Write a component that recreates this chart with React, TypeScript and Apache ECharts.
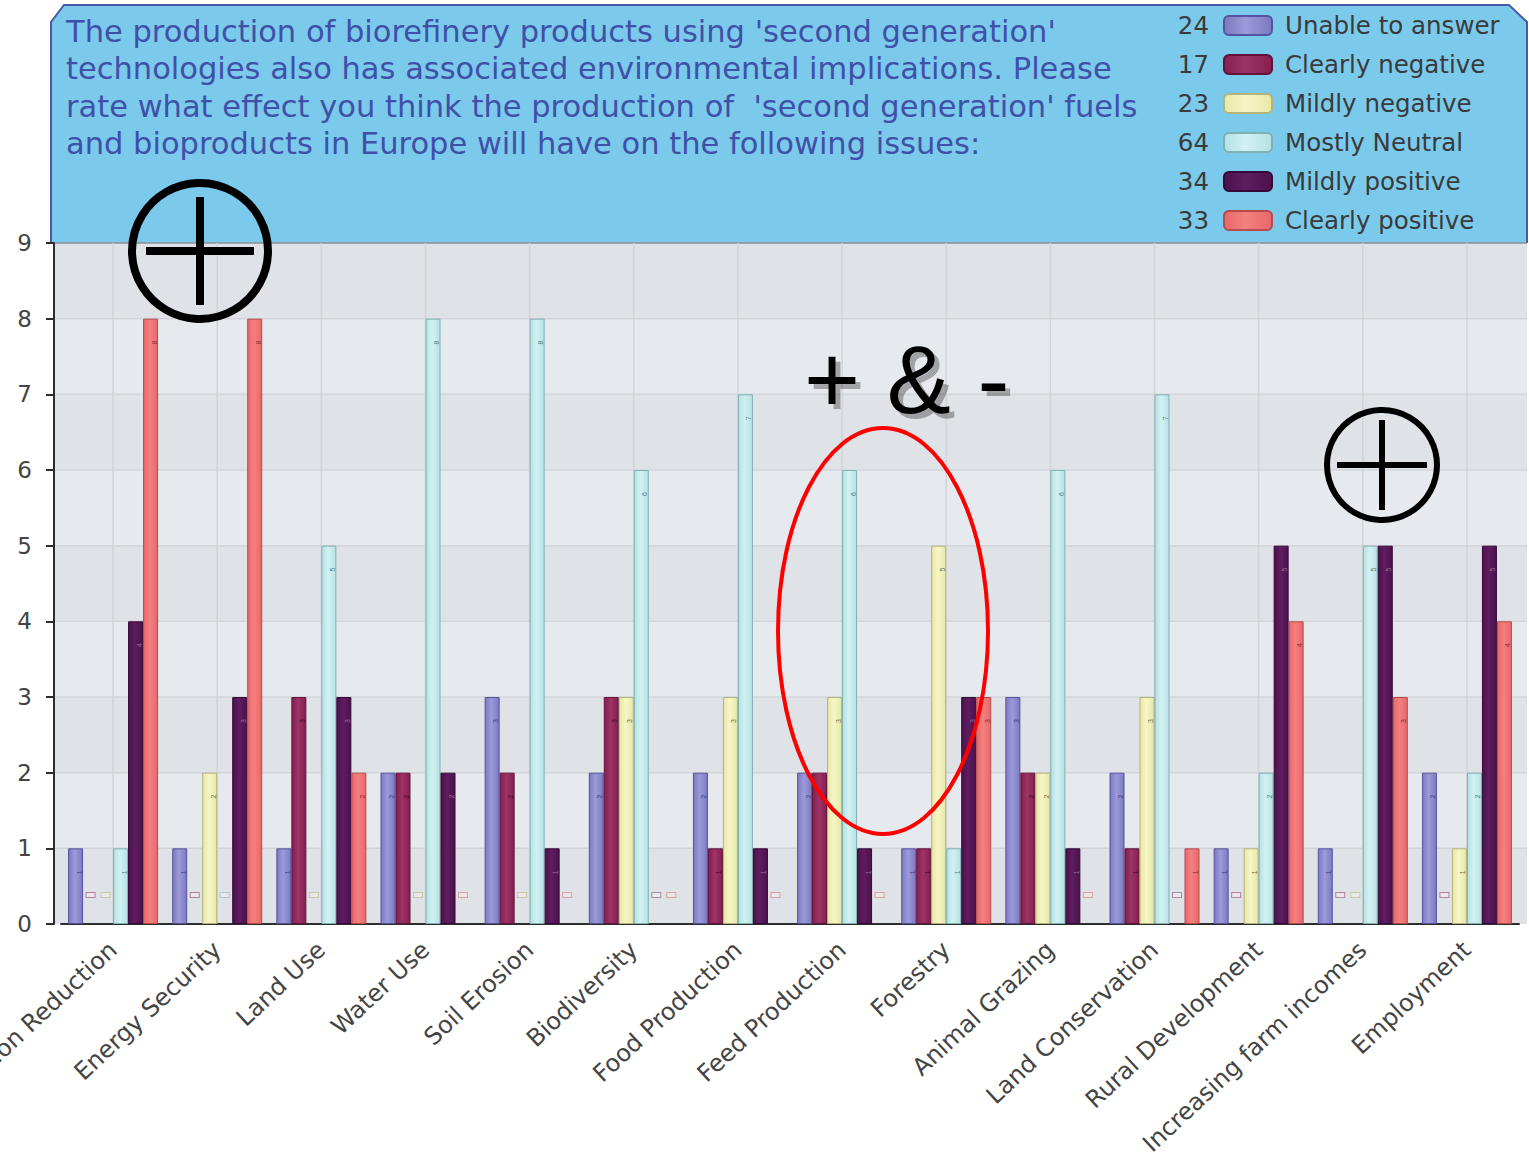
import React, { useEffect, useRef } from 'react';
import * as echarts from 'echarts';

const categories = [
  'GHG Emission Reduction', 'Energy Security', 'Land Use', 'Water Use', 'Soil Erosion',
  'Biodiversity', 'Food Production', 'Feed Production', 'Forestry', 'Animal Grazing',
  'Land Conservation', 'Rural Development', 'Increasing farm incomes', 'Employment',
];
const unableToAnswer = [1, 1, 1, 2, 3, 2, 2, 2, 1, 3, 2, 1, 1, 2];
const clearlyNegative = [0, 0, 3, 2, 2, 3, 1, 2, 1, 2, 1, 0, 0, 0];
const mildlyNegative = [0, 2, 0, 0, 0, 3, 3, 3, 5, 2, 3, 1, 0, 1];
const mostlyNeutral = [1, 0, 5, 8, 8, 6, 7, 6, 1, 6, 7, 2, 5, 2];
const mildlyPositive = [4, 3, 3, 2, 1, 0, 1, 1, 3, 1, 0, 5, 5, 5];
const clearlyPositive = [8, 8, 2, 0, 0, 0, 0, 0, 3, 0, 1, 4, 3, 4];
const seriesNames = ['Unable to answer', 'Clearly negative', 'Mildly negative', 'Mostly Neutral', 'Mildly positive', 'Clearly positive'];
const seriesValues = [unableToAnswer, clearlyNegative, mildlyNegative, mostlyNeutral, mildlyPositive, clearlyPositive];
const yMin = 0;
const yMax = 9;
const yInterval = 1;
const titleLines = [
  "The production of biorefinery products using 'second generation'",
  'technologies also has associated environmental implications. Please',
  "rate what effect you think the production of  'second generation' fuels",
  'and bioproducts in Europe will have on the following issues:',
];
const annotationText = '+ & -';

const FONT = '"Liberation Sans", Arial, Helvetica, sans-serif';
const WIDE = '"DejaVu Sans", Verdana, sans-serif';

const palette = [
  { c0: '#7c7abf', c1: '#9c9ada', border: '#55539f', zeroBorder: '#a9a7d6', label: '#3f3d80' },
  { c0: '#851f50', c1: '#9c3466', border: '#63123a', zeroBorder: '#b2849c', label: '#3d0a20' },
  { c0: '#e7e7a8', c1: '#f6f6c6', border: '#b3b37c', zeroBorder: '#c9c9a6', label: '#6e6e40' },
  { c0: '#b5e2e4', c1: '#d2f1f2', border: '#7fb1b3', zeroBorder: '#b0c8c8', label: '#4e7d7f' },
  { c0: '#4c114d', c1: '#5e1d5f', border: '#36083a', zeroBorder: '#a58ea8', label: '#9a6f9c' },
  { c0: '#e8686a', c1: '#f3807f', border: '#b64a4c', zeroBorder: '#d8a0a0', label: '#8a2a2a' },
];

export default function App() {
  const ref = useRef<HTMLDivElement>(null);

  useEffect(() => {
    document.body.style.margin = '0';
    if (!ref.current) return;
    const chart = echarts.init(ref.current, null, { renderer: 'svg' });

    const series = seriesValues.map((vals, si) => {
      const p = palette[si];
      return {
        name: seriesNames[si],
        type: 'bar',
        barWidth: 15,
        barGap: '0%',
        z: 5,
        itemStyle: {
          color: new echarts.graphic.LinearGradient(0, 0, 1, 0, [
            { offset: 0, color: p.c0 },
            { offset: 0.45, color: p.c1 },
            { offset: 1, color: p.c0 },
          ]),
          borderColor: p.border,
          borderWidth: 1,
        },
        label: {
          show: true,
          position: 'insideTop',
          distance: 24,
          rotate: 90,
          fontSize: 7,
          color: p.label,
          fontFamily: FONT,
        },
        data: vals.map((v) =>
          v === 0
            ? {
                value: v,
                itemStyle: { borderWidth: 0 },
                label: {
                  show: true,
                  position: 'top',
                  distance: 27,
                  rotate: 0,
                  formatter: '{z| }',
                  rich: {
                    z: {
                      width: 8,
                      height: 4,
                      fontSize: 4,
                      borderColor: p.zeroBorder,
                      borderWidth: 1,
                      backgroundColor: '#ebe8ec',
                    },
                  },
                },
              }
            : v
        ),
      };
    });

    chart.setOption({
      animation: false,
      textStyle: { fontFamily: FONT },
      grid: { left: 61, right: 10, top: 243, bottom: 243, containLabel: false, outerBoundsMode: 'none' },
      legend: {
        orient: 'vertical',
        left: 1218,
        top: 8,
        itemWidth: 48,
        itemHeight: 19,
        itemGap: 14,
        icon: 'roundRect',
        data: seriesNames,
        textStyle: { fontSize: 24.5, color: '#3a3a3a', fontFamily: WIDE, padding: [0, 0, 0, 8] },
      },
      xAxis: {
        type: 'category',
        data: categories,
        axisLine: { lineStyle: { color: '#2d2d2d', width: 2 } },
        axisTick: { alignWithLabel: true, length: 8, lineStyle: { color: '#2d2d2d', width: 2 } },
        axisLabel: { rotate: 43, fontSize: 24, color: '#444', margin: 22, interval: 0, fontFamily: WIDE },
        splitLine: { show: false },
      },
      yAxis: {
        type: 'value',
        min: yMin,
        max: yMax,
        interval: yInterval,
        offset: 7,
        axisLine: { show: true, lineStyle: { color: '#2d2d2d', width: 2 } },
        axisTick: { show: true, length: 8, lineStyle: { color: '#2d2d2d', width: 2 } },
        axisLabel: { fontSize: 23, color: '#444', margin: 22, fontFamily: WIDE },
        splitLine: { show: false },
      },
      series,
    });

    const py = (v: number) => chart.convertToPixel({ yAxisIndex: 0 }, v) as number;
    const px = (i: number) => chart.convertToPixel({ xAxisIndex: 0 }, i) as number;
    const left = 55;
    const right = 1527;
    const graphics: any[] = [];

    const topY = py(yMax);
    graphics.push({
      type: 'polygon',
      z: -20,
      shape: { points: [[50, topY], [50, 22], [64, 5], [1509, 5], [1528, 22], [1528, topY]] },
      style: { fill: '#7bcaeb', stroke: 'none' },
      silent: true,
    });
    graphics.push({
      type: 'polyline',
      z: -19,
      shape: { points: [[51, topY], [51, 22], [64, 5], [1509, 5], [1527, 22], [1527, topY]] },
      style: { fill: 'none', stroke: '#4a58a8', lineWidth: 2 },
      silent: true,
    });
    titleLines.forEach((t, i) => {
      graphics.push({
        type: 'text',
        z: -18,
        x: 66,
        y: 31 + i * 37.5,
        style: { text: t, fontSize: 30.5, fill: '#4050a8', fontFamily: WIDE, verticalAlign: 'middle', align: 'left' },
        silent: true,
      });
    });

    for (let v = yMin; v < yMax; v += yInterval) {
      const y0 = py(v);
      const y1 = py(v + yInterval);
      graphics.push({
        type: 'rect',
        z: -15,
        shape: { x: left, y: y1, width: right - left, height: y0 - y1 },
        style: { fill: v % 2 === 0 ? '#dfe2e6' : '#e6eaef' },
        silent: true,
      });
    }
    for (let v = yMin + yInterval; v <= yMax; v += yInterval) {
      graphics.push({
        type: 'line',
        z: -14,
        shape: { x1: left, y1: py(v), x2: right, y2: py(v) },
        style: { stroke: v === yMax ? '#8a8f96' : '#d2d4d8', lineWidth: 1.5 },
        silent: true,
      });
    }
    categories.forEach((_, i) => {
      graphics.push({
        type: 'line',
        z: -14,
        shape: { x1: px(i), y1: py(yMax), x2: px(i), y2: py(yMin) },
        style: { stroke: '#d2d4d8', lineWidth: 1.5 },
        silent: true,
      });
    });

    seriesValues.forEach((vals, si) => {
      const total = vals.reduce((a, b) => a + b, 0);
      graphics.push({
        type: 'text',
        z: 50,
        x: 1209,
        y: 25 + si * 39,
        style: { text: String(total), fontSize: 24.5, fill: '#3a3a3a', fontFamily: WIDE, align: 'right', verticalAlign: 'middle' },
        silent: true,
      });
    });

    const circlePlus = (cx: number, cy: number, r: number, arm: number, lw: number) => {
      graphics.push({ type: 'circle', z: 100, shape: { cx, cy, r }, style: { fill: 'none', stroke: '#000', lineWidth: lw }, silent: true });
      graphics.push({ type: 'line', z: 100, shape: { x1: cx - arm, y1: cy, x2: cx + arm, y2: cy }, style: { stroke: '#000', lineWidth: lw }, silent: true });
      graphics.push({ type: 'line', z: 100, shape: { x1: cx, y1: cy - arm, x2: cx, y2: cy + arm }, style: { stroke: '#000', lineWidth: lw }, silent: true });
    };
    circlePlus(200, 251, 68, 54, 8);
    circlePlus(1382, 465, 55, 45, 6);

    graphics.push({
      type: 'text',
      z: 100,
      x: 804,
      y: 427,
      style: {
        text: annotationText,
        fontSize: 96,
        fill: '#000',
        fontFamily: FONT,
        align: 'left',
        verticalAlign: 'bottom',
        textShadowColor: 'rgba(0,0,0,0.3)',
        textShadowOffsetX: 5,
        textShadowOffsetY: 5,
        textShadowBlur: 1,
      },
      silent: true,
    });
    graphics.push({
      type: 'ellipse',
      z: 100,
      shape: { cx: 883, cy: 631, rx: 105, ry: 203 },
      style: { fill: 'none', stroke: '#ff0000', lineWidth: 4 },
      silent: true,
    });

    chart.setOption({ graphic: graphics });

    return () => chart.dispose();
  }, []);

  return <div ref={ref} style={{ width: 1529, height: 1167 }} />;
}
